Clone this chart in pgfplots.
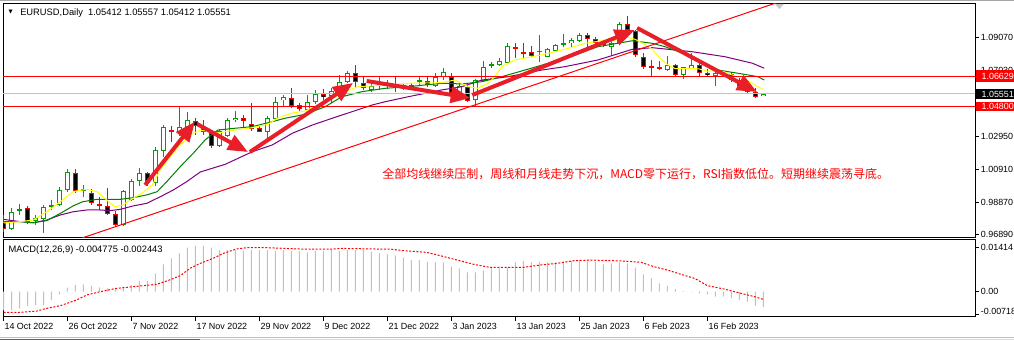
\documentclass[border=0pt]{standalone}
\usepackage{fontspec}
\setmainfont{Liberation Sans}
\newfontfamily\cjk{Noto Sans CJK SC}
\newfontfamily\dejavu{DejaVu Sans}
\usepackage{pgfplots}
\usepackage{pgfplotstable}
\pgfplotsset{compat=1.18}
\usetikzlibrary{arrows.meta}
\definecolor{bullgreen}{RGB}{0,160,0}
\definecolor{magreen}{RGB}{0,128,0}
\definecolor{mapurple}{RGB}{128,0,128}
\definecolor{mayellow}{RGB}{255,255,0}
\definecolor{silv}{RGB}{192,192,192}
\definecolor{arrowred}{RGB}{232,30,40}

\pgfplotstableread{
x o h l c
1 0.9719 0.9848 0.9714 0.9827
2 0.9834 0.9875 0.9807 0.9842
4 0.9772 0.9807 0.9745 0.9787
5 0.9780 0.9869 0.9698 0.9858
6 0.9863 0.9900 0.9838 0.9867
7 0.9869 0.9978 0.9863 0.9961
8 0.9961 1.0089 0.9951 1.0071
10 0.9961 0.9992 0.9920 0.9966
15 0.9743 0.9961 0.9739 0.9953
16 0.9900 1.0028 0.9895 1.0015
17 1.0015 1.0096 0.9986 1.0065
19 1.0003 1.0229 0.9986 1.0209
20 1.0204 1.0365 1.0167 1.0349
22 1.0314 1.0481 1.0295 1.0351
23 1.0353 1.0442 1.0291 1.0394
27 1.0235 1.0338 1.0229 1.0326
28 1.0297 1.0408 1.0291 1.0394
29 1.0394 1.0450 1.0384 1.0408
33 1.0322 1.0421 1.0285 1.0408
34 1.0400 1.0538 1.0394 1.0507
35 1.0516 1.0549 1.0476 1.0538
38 1.0456 1.0549 1.0456 1.0504
39 1.0504 1.0580 1.0491 1.0553
41 1.0544 1.0590 1.0497 1.0573
42 1.0569 1.0672 1.0565 1.0627
43 1.0631 1.0697 1.0621 1.0683
46 1.0578 1.0631 1.0569 1.0604
47 1.0606 1.0662 1.0580 1.0621
48 1.0604 1.0641 1.0584 1.0617
50 1.0600 1.0625 1.0580 1.0610
52 1.0631 1.0662 1.0610 1.0641
54 1.0604 1.0686 1.0596 1.0658
55 1.0658 1.0714 1.0641 1.0693
57 1.0552 1.0631 1.0545 1.0605
59 1.0518 1.0646 1.0481 1.0641
60 1.0637 1.0761 1.0631 1.0724
61 1.0728 1.0755 1.0714 1.0738
62 1.0734 1.0775 1.0728 1.0759
63 1.0748 1.0868 1.0744 1.0851
67 1.0819 1.0919 1.0754 1.0822
68 1.0785 1.0837 1.0782 1.0831
69 1.0822 1.0864 1.0816 1.0858
70 1.0858 1.0926 1.0843 1.0868
71 1.0868 1.0899 1.0843 1.0888
72 1.0884 1.0930 1.0878 1.0919
76 1.0843 1.0893 1.0796 1.0868
77 1.0868 1.1002 1.0864 1.0987
83 1.0703 1.0790 1.0699 1.0734
85 1.0672 1.0724 1.0646 1.0720
86 1.0714 1.0810 1.0707 1.0734
89 1.0666 1.0693 1.0604 1.0687
90 1.0678 1.0693 1.0672 1.0687
95 1.05412 1.05557 1.05412 1.05551
}\bull

\pgfplotstableread{
x o h l c
0 0.9766 0.9807 0.9704 0.9719
3 0.9848 0.9863 0.9751 0.9766
9 1.0068 1.0089 0.9945 0.9957
11 0.9941 0.9966 0.9869 0.9883
12 0.9873 0.9920 0.9838 0.9867
13 0.9863 0.9972 0.9807 0.9813
14 0.9811 0.9834 0.9731 0.9745
18 1.0065 1.0075 0.9986 1.0003
21 1.0332 1.0357 1.0260 1.0326
24 1.0388 1.0408 1.0301 1.0359
25 1.0353 1.0394 1.0301 1.0318
26 1.0312 1.0332 1.0223 1.0235
30 1.0408 1.0425 1.0346 1.0388
31 1.0368 1.0497 1.0326 1.0338
32 1.0343 1.0359 1.0318 1.0322
36 1.0528 1.0590 1.0470 1.0482
37 1.0487 1.0497 1.0450 1.0462
40 1.0553 1.0586 1.0518 1.0536
44 1.0683 1.0734 1.0590 1.0631
45 1.0621 1.0662 1.0580 1.0590
49 1.0604 1.0662 1.0569 1.0590
51 1.0610 1.0625 1.0580 1.0596
53 1.0637 1.0662 1.0600 1.0610
56 1.0662 1.0683 1.0549 1.0559
58 1.0596 1.0610 1.0507 1.0514
64 1.0843 1.0868 1.0775 1.0831
65 1.0814 1.0872 1.0775 1.0806
66 1.0816 1.0851 1.0782 1.0790
73 1.0919 1.0934 1.0843 1.0893
74 1.0893 1.0905 1.0851 1.0868
75 1.0868 1.0878 1.0847 1.0856
78 1.0987 1.1037 1.0946 1.0950
79 1.0944 1.0950 1.0785 1.0796
80 1.0782 1.0806 1.0707 1.0724
81 1.0728 1.0765 1.0666 1.0720
82 1.0720 1.0761 1.0703 1.0708
84 1.0734 1.0740 1.0668 1.0672
87 1.0734 1.0748 1.0658 1.0683
88 1.0687 1.0707 1.0658 1.0672
91 1.0678 1.0693 1.0631 1.0641
92 1.0641 1.0652 1.0596 1.0604
93 1.0604 1.0617 1.0559 1.0569
94 1.0569 1.0590 1.0528 1.0538
}\bear

\tikzset{lbl/.style={font=\fontsize{6.7}{8}\selectfont}}
\pgfplotsset{
  wick/.style={draw=none, mark=none, forget plot,
    error bars/.cd, y dir=both, y explicit, error mark=none,
    error bar style={line width=0.75pt, draw=#1, solid}},
  body/.style={draw=none, mark=none, forget plot,
    error bars/.cd, y dir=both, y explicit, error mark=none,
    error bar style={line width=3.75pt, draw=#1, solid, line cap=butt}},
  inner/.style={draw=none, mark=none, forget plot,
    error bars/.cd, y dir=both, y explicit, error mark=none,
    error bar style={line width=2.25pt, draw=#1, solid, line cap=butt}},
}

\begin{document}
\begin{tikzpicture}
\path[use as bounding box, fill=white] (0,0) rectangle (760.5pt,-255.75pt);

% ---------------- main price panel ----------------
\begin{axis}[
  at={(2.25pt,-178.5pt)}, anchor=south west,
  width=729pt, height=175.5pt, scale only axis,
  xmin=-0.0625, xmax=121.44,
  ymin=0.96649, ymax=1.11110,
  axis line style={line width=0.75pt, black},
  xtick=\empty,
  ytick={0.9689,0.9887,1.0091,1.0295,1.0703,1.0907},
  yticklabels={0.96890,0.98870,1.00910,1.02950,1.07030,1.09070},
  scaled y ticks=false,
  ytick pos=right, yticklabel pos=right,
  tick align=outside, major tick length=3pt,
  tick style={black, line width=0.75pt},
  yticklabel style={lbl, anchor=west, inner xsep=1.2pt},
  clip=true,
]
% wicks
\addplot[wick=bullgreen] table[x=x, y expr={(\thisrow{h}+\thisrow{l})/2}, y error expr={(\thisrow{h}-\thisrow{l})/2}] {\bull};
\addplot[wick=red] table[x=x, y expr={(\thisrow{h}+\thisrow{l})/2}, y error expr={(\thisrow{h}-\thisrow{l})/2}] {\bear};
% bodies
\addplot[body=bullgreen] table[x=x, y expr={(\thisrow{o}+\thisrow{c})/2}, y error expr={max(abs(\thisrow{o}-\thisrow{c})/2,0.0003)}] {\bull};
\addplot[inner=white] table[x=x, y expr={(\thisrow{o}+\thisrow{c})/2}, y error expr={max(abs(\thisrow{o}-\thisrow{c})/2-0.00062,0)}] {\bull};
\addplot[body=red] table[x=x, y expr={(\thisrow{o}+\thisrow{c})/2}, y error expr={max(abs(\thisrow{o}-\thisrow{c})/2,0.0003)}] {\bear};
\addplot[inner=black] table[x=x, y expr={(\thisrow{o}+\thisrow{c})/2}, y error expr={max(abs(\thisrow{o}-\thisrow{c})/2-0.00062,0)}] {\bear};

% moving averages
\addplot[mapurple, line width=0.75pt, mark=none] coordinates {
(0,0.9780) (2.1,0.9766) (3.7,0.9759) (5.4,0.9776) (7.1,0.9807) (8.7,0.9827) (10.4,0.9838) (12.1,0.9838) (13.3,0.9834) (14.6,0.9842) (16.2,0.9863) (17.9,0.9879) (19.6,0.9920) (21.2,0.9961) (22.9,1.0013) (24.6,1.0073) (27.7,1.0120) (31.1,1.0198) (33.6,1.0240) (36.1,1.0312) (38.6,1.0363) (41.1,1.0405) (43.6,1.0446) (46.1,1.0487) (47.7,1.0507) (50.6,1.0538) (54.8,1.0580) (57.3,1.0600) (59.8,1.0641) (63.1,1.0662) (67.3,1.0703) (70.2,1.0724) (74.3,1.0765) (78.6,1.0831) (81.1,1.0841) (86.1,1.0816) (90.2,1.0785) (93.6,1.0745) (95.1,1.0714)};
\addplot[magreen, line width=0.75pt, mark=none] coordinates {
(0,0.9766) (2.1,0.9766) (3.7,0.9759) (5.4,0.9772) (7.1,0.9817) (8.7,0.9863) (9.9,0.9889) (11.7,0.9904) (13.3,0.9904) (14.6,0.9904) (16.2,0.9914) (17.9,0.9931) (19.2,0.9951) (20.4,1.0013) (22.1,1.0106) (23.9,1.0198) (25.2,1.0271) (26.8,1.0332) (28.9,1.0343) (31.1,1.0353) (33.6,1.0384) (35.2,1.0405) (37.7,1.0429) (40.2,1.0476) (42.3,1.0538) (44.8,1.0569) (47.7,1.0590) (50.6,1.0600) (54.8,1.0621) (57.3,1.0617) (59.8,1.0631) (62.3,1.0662) (65.2,1.0703) (68.1,1.0745) (71.4,1.0796) (74.3,1.0847) (78.6,1.0884) (81.1,1.0868) (82.7,1.0847) (86.1,1.0785) (89.3,1.0703) (91.8,1.0683) (94.3,1.0662) (95.1,1.0641)};
\addplot[mayellow, line width=0.75pt, mark=none] coordinates {
(0,0.9758) (2.1,0.9766) (3.7,0.9776) (5.4,0.9827) (7.1,0.9889) (8.7,0.9951) (10.4,0.9966) (11.7,0.9951) (12.9,0.9900) (13.9,0.9858) (14.9,0.9869) (16.2,0.9910) (17.4,0.9945) (18.6,0.9992) (19.6,1.0085) (20.8,1.0165) (22.1,1.0240) (23.3,1.0301) (24.6,1.0332) (26.8,1.0314) (28.9,1.0332) (31.1,1.0347) (33.1,1.0368) (34.3,1.0407) (36.1,1.0437) (37.7,1.0450) (39.3,1.0487) (41.1,1.0530) (42.7,1.0569) (44.3,1.0600) (47.7,1.0610) (50.6,1.0621) (54.8,1.0625) (56.4,1.0641) (58.1,1.0600) (59.3,1.0590) (60.6,1.0621) (61.4,1.0662) (62.3,1.0724) (63.9,1.0765) (66.1,1.0785) (68.1,1.0806) (70.6,1.0837) (72.7,1.0868) (75,1.0885) (76,1.0881) (77,1.0895) (78,1.0906) (79,1.0892) (80,1.0865) (81,1.0836) (82,1.0780) (83,1.0737) (84,1.0711) (85,1.0711) (86,1.0714) (87,1.0709) (88,1.0696) (89,1.0699) (90,1.0693) (91,1.0674) (92,1.0658) (93,1.0638) (94,1.0608) (95,1.0582)};

% horizontal levels
\addplot[silv, line width=0.75pt, mark=none] coordinates {(-1,1.05551) (125,1.05551)};
\addplot[red, line width=0.75pt, mark=none] coordinates {(-1,1.06629) (125,1.06629)};
\addplot[red, line width=0.75pt, mark=none] coordinates {(-1,1.04800) (125,1.04800)};
% trend line
\addplot[red, line width=0.75pt, mark=none] coordinates {(9,0.9651) (100,1.1175)};

% arrows
\addplot[arrowred, line width=3pt, -{Triangle[length=15pt,width=12pt]}] coordinates {(17.7,0.99924) (23.94,1.03836)};
\addplot[arrowred, line width=3pt, -{Triangle[length=15pt,width=12pt]}] coordinates {(24.2,1.03694) (30.56,1.01963)};
\addplot[arrowred, line width=3pt, -{Triangle[length=15pt,width=12pt]}] coordinates {(30.8,1.01963) (43.7,1.06228)};
\addplot[arrowred, line width=3pt, -{Triangle[length=15pt,width=12pt]}] coordinates {(45.4,1.06351) (58.4,1.05301)};
\addplot[arrowred, line width=3pt, -{Triangle[length=15pt,width=12pt]}] coordinates {(58.6,1.05486) (78.9,1.09503)};
\addplot[arrowred, line width=3pt, -{Triangle[length=15pt,width=12pt]}] coordinates {(79.2,1.09627) (94.2,1.05671)};
\end{axis}

% ---------------- MACD panel ----------------
\begin{axis}[
  at={(2.25pt,-237.75pt)}, anchor=south west,
  width=729pt, height=57.75pt, scale only axis,
  xmin=-0.0625, xmax=121.44,
  ymin=-0.008004, ymax=0.016356,
  axis line style={line width=0.75pt, black},
  xtick={0,8,...,88},
  xticklabels={14 Oct 2022,26 Oct 2022,7 Nov 2022,17 Nov 2022,29 Nov 2022,9 Dec 2022,21 Dec 2022,3 Jan 2023,13 Jan 2023,25 Jan 2023,6 Feb 2023,16 Feb 2023},
  ytick={0,0.01414},
  yticklabels={0.00,0.01414},
  extra y ticks={-0.00718},
  extra y tick labels={-0.00718},
  extra y tick style={yticklabel style={yshift=2.4pt}},
  scaled y ticks=false,
  xtick pos=bottom,
  ytick pos=right, yticklabel pos=right,
  tick align=outside, major tick length=3pt,
  tick style={black, line width=0.75pt},
  xticklabel style={lbl, anchor=north west, inner sep=0pt, xshift=0.6pt, yshift=-1.2pt},
  yticklabel style={lbl, anchor=west, inner xsep=1.2pt},
  clip=true,
]
\addplot[ybar, bar width=0.75pt, fill=silv, draw=none] coordinates {
(0,-0.00580) (1,-0.00580) (2,-0.00527) (3,-0.00453) (4,-0.00422) (5,-0.00422) (6,-0.00264) (7,-0.00084) (8,0.00127) (9,0.00211)
(10,0.00232) (11,0.00190) (12,0.00137) (13,0.00105) (14,0.00105) (15,0.00158) (16,0.00211) (17,0.00337) (18,0.00337) (19,0.00580)
(20,0.00865) (21,0.01055) (22,0.01213) (23,0.01392) (24,0.01455) (25,0.01455) (26,0.01392) (27,0.01318) (28,0.01318) (29,0.01318)
(30,0.01286) (31,0.01318) (32,0.01318) (33,0.01318) (34,0.01286) (35,0.01318) (36,0.01286) (37,0.01286) (38,0.01244) (39,0.01286)
(40,0.01286) (41,0.01318) (42,0.01286) (43,0.01318) (44,0.01318) (45,0.01318) (46,0.01265) (47,0.01213) (48,0.01181) (49,0.01139)
(50,0.01076) (51,0.01002) (52,0.01002) (53,0.00949) (54,0.00928) (55,0.00928) (56,0.00791) (57,0.00738) (58,0.00612) (59,0.00612)
(60,0.00664) (61,0.00738) (62,0.00738) (63,0.00759) (64,0.00928) (65,0.00970) (66,0.00928) (67,0.00949) (68,0.00928) (69,0.00928)
(70,0.00949) (71,0.00970) (72,0.01002) (73,0.01002) (74,0.00949) (75,0.00865) (76,0.00896) (77,0.00928) (78,0.00896) (79,0.00759)
(80,0.00548) (81,0.00422) (82,0.00264) (83,0.00190) (84,0.00084) (85,0.00021) (86,-0.00005) (87,-0.00053) (88,-0.00084) (89,-0.00158)
(90,-0.00158) (91,-0.00211) (92,-0.00264) (93,-0.00316) (94,-0.00443) (95,-0.004775)};
\addplot[red, line width=0.75pt, mark=none, dash pattern=on 1.5pt off 1.2pt] coordinates {
(0,-0.00654) (2.1,-0.00654) (4.15,-0.00612) (5.4,-0.00527) (7.1,-0.00443) (9.1,-0.00264) (10.4,-0.00105) (12.1,0) (14.1,0.00105) (16.2,0.00158) (19.1,0.00232) (20.4,0.00337) (22.1,0.00506) (23.3,0.00738) (24.6,0.00896) (26.2,0.01055) (27.5,0.01213) (29.1,0.01350) (30.4,0.01392) (32.9,0.01392) (37.1,0.01350) (41.2,0.01350) (42.1,0.01371) (46.6,0.01350) (48.3,0.01350) (50.0,0.01297) (52.9,0.01244) (54.6,0.01139) (56.7,0.01002) (58.8,0.00865) (60.8,0.00770) (65.0,0.00770) (67.1,0.00844) (69.2,0.00896) (71.3,0.00981) (73.4,0.01002) (77.6,0.00970) (79.7,0.00928) (81.3,0.00791) (83.0,0.00685) (84.7,0.00548) (86.4,0.00422) (88.0,0.00190) (90.1,0.00084) (92.2,-0.00053) (93.9,-0.00158) (95,-0.002443)};
\end{axis}

% ---------------- price-scale tags ----------------
\fill[red] (732pt,-52.7pt) rectangle (761pt,-61.3pt);
\node[lbl, text=white, anchor=west, inner sep=0pt] at (736pt,-57.0pt) {1.06629};
\fill[black] (732pt,-67.0pt) rectangle (761pt,-74.25pt);
\node[lbl, text=white, anchor=west, inner sep=0pt] at (736pt,-70.6pt) {1.05551};
\fill[red] (732pt,-76.3pt) rectangle (761pt,-83.25pt);
\node[lbl, text=white, anchor=west, inner sep=0pt] at (736pt,-79.8pt) {1.04800};

% ---------------- texts ----------------
\node[anchor=west, inner sep=0pt, font=\dejavu\fontsize{4}{5}\selectfont] at (6.2pt,-9.3pt) {▼};
\node[anchor=west, inner sep=0pt, font=\fontsize{7}{8}\selectfont] at (15pt,-9.75pt) {EURUSD,Daily\ \ 1.05412 1.05557 1.05412 1.05551};
\node[anchor=west, inner sep=0pt, font=\fontsize{7}{8}\selectfont] at (6.2pt,-187.5pt) {MACD(12,26,9) -0.004775 -0.002443};
\node[anchor=west, inner sep=0pt, text=red, font=\cjk\fontsize{9}{10}\selectfont] at (286.5pt,-130.5pt) {全部均线继续压制，周线和月线走势下沉，MACD零下运行，RSI指数低位。短期继续震荡寻底。};
\fill[gray!45] (581.2pt,-3pt) -- (588pt,-3pt) -- (584.6pt,-6.8pt) -- cycle;

% window edges
\draw[gray!70, line width=0.9pt] (0,-0.45pt) -- (760.5pt,-0.45pt);
\draw[gray!50, line width=0.75pt] (0,-252.9pt) -- (760.5pt,-252.9pt);
\draw[gray!80!black, line width=0.75pt] (0,-254.8pt) -- (150pt,-254.8pt);
\draw[gray!30, line width=0.75pt] (150pt,-254.8pt) -- (760.5pt,-254.8pt);
\end{tikzpicture}
\end{document}
